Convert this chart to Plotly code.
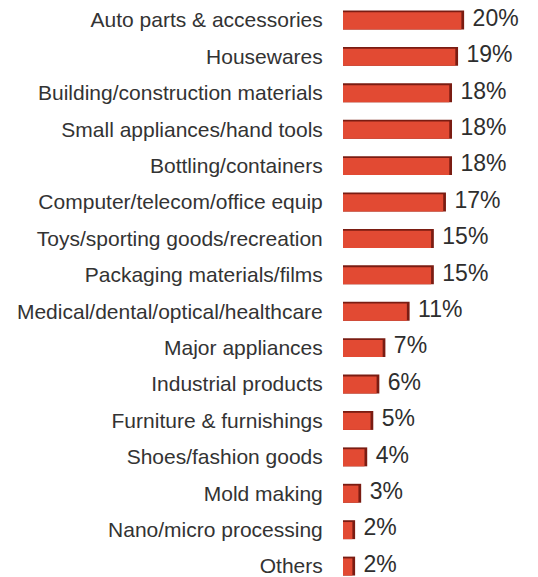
import plotly.graph_objects as go

categories = [
    "Auto parts & accessories", "Housewares", "Building/construction materials",
    "Small appliances/hand tools", "Bottling/containers", "Computer/telecom/office equip",
    "Toys/sporting goods/recreation", "Packaging materials/films",
    "Medical/dental/optical/healthcare", "Major appliances", "Industrial products",
    "Furniture & furnishings", "Shoes/fashion goods", "Mold making",
    "Nano/micro processing", "Others",
]
values = [20, 19, 18, 18, 18, 17, 15, 15, 11, 7, 6, 5, 4, 3, 2, 2]
value_labels = [f"{v}%" for v in values]

idx = list(range(len(categories)))
red_len = [v - 0.45 for v in values]

fig = go.Figure()
fig.add_trace(go.Bar(
    x=values, y=idx, orientation="h", width=0.52, offset=-0.26,
    marker=dict(color="#7a1c12", line=dict(width=0)), hoverinfo="skip",
))
fig.add_trace(go.Bar(
    x=red_len, y=idx, orientation="h", width=0.47, offset=-0.21,
    marker=dict(color="#e24a33", line=dict(width=0)), hoverinfo="skip",
))
fig.add_trace(go.Scatter(
    x=[v + 1.4 for v in values], y=idx, mode="text", text=value_labels,
    textposition="middle right",
    textfont=dict(family="Liberation Sans, Arial", size=23, color="#2e2e2e"),
    hoverinfo="skip", cliponaxis=False,
))

fig.update_layout(
    template="none",
    width=538, height=577,
    margin=dict(l=343, r=0, t=0, b=0, autoexpand=False),
    paper_bgcolor="white", plot_bgcolor="white",
    barmode="overlay", showlegend=False,
    xaxis=dict(range=[0, 32.2], visible=False, fixedrange=True, automargin=False),
    yaxis=dict(
        range=[15.30, -0.549], tickvals=idx, ticktext=categories,
        showgrid=False, zeroline=False, showline=False, automargin=False,
        ticks="outside", ticklen=15, tickcolor="rgba(0,0,0,0)",
        ticklabeloverflow="allow",
        tickfont=dict(family="Liberation Sans, Arial", size=21, color="#333333"),
    ),
)

fig.write_html(
    "out.html",
    config={"displayModeBar": False, "staticPlot": True},
    post_script="document.body.style.margin='0';document.body.style.overflow='hidden';",
)
